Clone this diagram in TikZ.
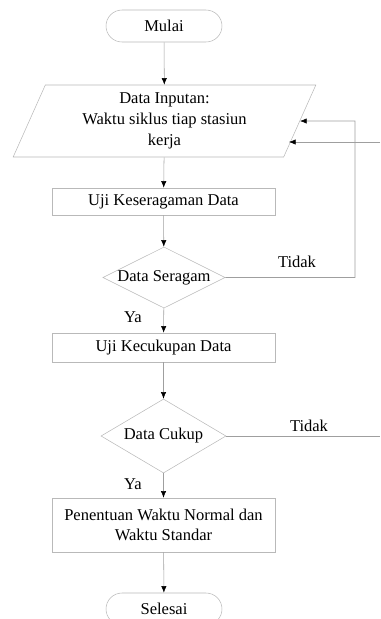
\documentclass[tikz,border=0pt]{standalone}
\usepackage{fontspec}
\setmainfont{Liberation Serif}
\newfontfamily\flowfont{Liberation Serif}
\usepackage{tikz}
\usetikzlibrary{shapes.geometric, shapes.misc, arrows.meta}

\begin{document}
\begin{tikzpicture}[x=0.75pt, y=-0.75pt,
  every node/.style={font=\flowfont\fontsize{12.4}{15.5}\selectfont, text=black},
  terminal/.style={draw=gray!55, rounded rectangle, minimum width=87pt, minimum height=24pt, inner sep=0pt},
  inputbox/.style={draw=gray!55, trapezium, trapezium left angle=60, trapezium right angle=120,
    trapezium stretches body, minimum width=227pt, minimum height=54pt, align=center, inner sep=0pt},
  process/.style={draw=gray!55, rectangle, minimum width=167pt, align=center, inner sep=0pt},
  decision/.style={draw=gray!55, diamond, shape aspect=2, inner sep=0pt},
  flow/.style={draw=gray!75, -{Latex[length=5pt, width=4pt, color=black]}},
  line/.style={draw=gray!75}]

\useasboundingbox (0,0) rectangle (380,619);

\node[terminal] (mulai) at (164, 26) {Mulai};
\node[inputbox] (input) at (164.5, 121) {Data Inputan:\\Waktu siklus tiap stasiun\\kerja};
\node[process, minimum height=20.25pt] (uji1) at (163.5, 201.5) {Uji Keseragaman Data};
\node[decision, minimum width=90.75pt, minimum height=45.75pt] (seragam) at (164, 277.5) {Data Seragam};
\node[process, minimum height=21.75pt] (uji2) at (163.5, 347.5) {Uji Kecukupan Data};
\node[decision, minimum width=93.75pt, minimum height=55.5pt] (cukup) at (163.5, 436) {Data Cukup};
\node[process, minimum height=40.5pt] (waktu) at (163.5, 525) {Penentuan Waktu Normal dan\\Waktu Standar};
\node[terminal] (selesai) at (164, 609) {Selesai};

\node (ya1) at (133, 317) {Ya};
\node (ya2) at (133, 484) {Ya};
\node (tidak1) at (297, 262) {Tidak};
\node (tidak2) at (309, 426) {Tidak};

\coordinate (balik) at (355, 121);
\coordinate (masuk) at (380, 142);
\coordinate (masukend) at (289, 142);
\coordinate (keluar) at (380, 436);

\draw[flow] (mulai) -- (input);
\draw[flow] (input) -- (uji1);
\draw[flow] (uji1) -- (seragam);
\draw[flow] (seragam) -- (uji2);
\draw[flow] (uji2) -- (cukup);
\draw[flow] (cukup) -- (waktu);
\draw[flow] (waktu) -- (selesai);

\draw[flow] (seragam.east) -| (balik) -- (input.east);
\draw[flow] (masuk) -- (masukend);
\draw[line] (cukup.east) -- (keluar);
\end{tikzpicture}
\end{document}
